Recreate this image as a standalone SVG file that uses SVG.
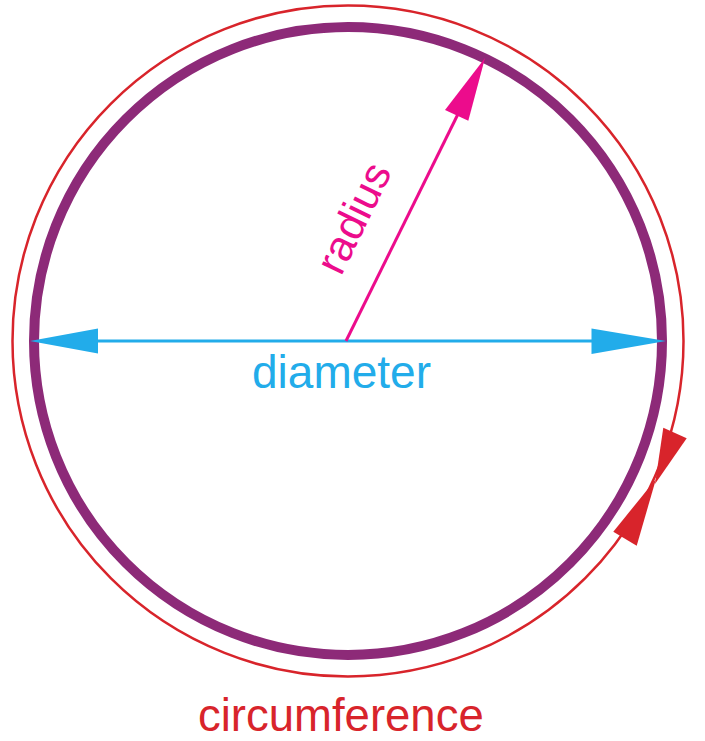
<svg xmlns="http://www.w3.org/2000/svg" width="705" height="741" viewBox="0 0 705 741">
<style>
text{font-family:"Liberation Sans",Arial,sans-serif}
.purple{fill:none;stroke:#8d2a78;stroke-width:10}
.red{fill:none;stroke:#d8242b;stroke-width:2.5}
.blue{stroke:#22acea;stroke-width:3;fill:none}
.pink{stroke:#ec0c8c;stroke-width:3;fill:none}
</style>
<rect width="705" height="741" fill="#ffffff"/>
<g id="circumference">
<circle class="red" cx="348" cy="341" r="335.5"/>
<polygon points="663.3,427.7 686.7,438.3 655,484" fill="#d8242b"/>
<polygon points="613.3,531.7 636.7,545.7 656,479" fill="#d8242b"/>
<text x="198" y="731" font-size="45.5" fill="#d8242b">circumference</text>
</g>
<g id="circle">
<circle class="purple" cx="348" cy="341" r="314"/>
</g>
<g id="connectors">
<g id="diameter">
<line class="blue" x1="90" y1="341" x2="600" y2="341"/>
<polygon points="30,341 98,328.5 98,353.5" fill="#22acea"/>
<polygon points="666,341 591.5,328.5 591.5,354" fill="#22acea"/>
</g>
<g id="radius">
<line class="pink" x1="346" y1="341" x2="460" y2="110"/>
<polygon points="485,58 445,110 468.3,120.7" fill="#ec0c8c"/>
</g>
</g>
<text x="252" y="388" font-size="46" fill="#22acea">diameter</text>
<text x="0" y="0" font-size="43" fill="#ec0c8c" transform="translate(341,277) rotate(-64)">radius</text>
</svg>
